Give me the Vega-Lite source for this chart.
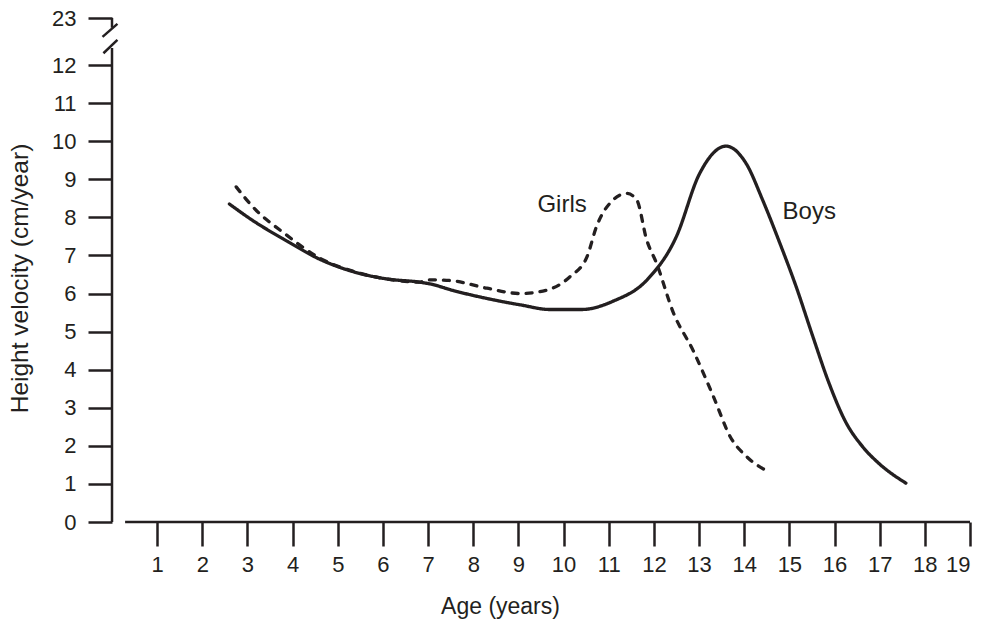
{
  "$schema": "https://vega.github.io/schema/vega-lite/v6.json",
  "width": 858,
  "height": 504,
  "autosize": {"type": "none"},
  "padding": {"left": 112, "top": 18, "right": 21, "bottom": 98},
  "background": "white",
  "config": {
    "view": {"stroke": null},
    "font": "Liberation Sans",
    "axis": {"grid": false, "labelColor": "#231f20", "titleColor": "#231f20", "labelFont": "Liberation Sans", "titleFont": "Liberation Sans", "titleFontWeight": "normal"}
  },
  "datasets": {
    "curves": [
      {"sex": "Boys", "age": 2.6, "velocity": 8.35},
      {"sex": "Boys", "age": 3.1, "velocity": 7.93},
      {"sex": "Boys", "age": 3.9, "velocity": 7.36},
      {"sex": "Boys", "age": 4.6, "velocity": 6.9},
      {"sex": "Boys", "age": 5.35, "velocity": 6.57},
      {"sex": "Boys", "age": 6.1, "velocity": 6.38},
      {"sex": "Boys", "age": 6.8, "velocity": 6.3},
      {"sex": "Boys", "age": 7.05, "velocity": 6.25},
      {"sex": "Boys", "age": 7.55, "velocity": 6.08},
      {"sex": "Boys", "age": 8.3, "velocity": 5.87},
      {"sex": "Boys", "age": 9.05, "velocity": 5.7},
      {"sex": "Boys", "age": 9.7, "velocity": 5.58},
      {"sex": "Boys", "age": 10.4, "velocity": 5.58},
      {"sex": "Boys", "age": 11.1, "velocity": 5.8},
      {"sex": "Boys", "age": 11.85, "velocity": 6.36},
      {"sex": "Boys", "age": 12.5, "velocity": 7.5},
      {"sex": "Boys", "age": 13.0, "velocity": 9.12},
      {"sex": "Boys", "age": 13.6, "velocity": 9.87},
      {"sex": "Boys", "age": 14.04, "velocity": 9.42},
      {"sex": "Boys", "age": 14.41, "velocity": 8.45},
      {"sex": "Boys", "age": 14.78, "velocity": 7.35},
      {"sex": "Boys", "age": 15.15, "velocity": 6.18},
      {"sex": "Boys", "age": 15.52, "velocity": 4.87},
      {"sex": "Boys", "age": 15.88, "velocity": 3.64},
      {"sex": "Boys", "age": 16.25, "velocity": 2.62},
      {"sex": "Boys", "age": 16.62, "velocity": 1.98},
      {"sex": "Boys", "age": 17.0, "velocity": 1.52},
      {"sex": "Boys", "age": 17.58, "velocity": 1.02},
      {"sex": "Girls", "age": 2.75, "velocity": 8.8},
      {"sex": "Girls", "age": 3.1, "velocity": 8.3},
      {"sex": "Girls", "age": 3.85, "velocity": 7.55},
      {"sex": "Girls", "age": 4.6, "velocity": 6.93},
      {"sex": "Girls", "age": 5.35, "velocity": 6.58},
      {"sex": "Girls", "age": 6.1, "velocity": 6.38},
      {"sex": "Girls", "age": 6.8, "velocity": 6.3},
      {"sex": "Girls", "age": 7.05, "velocity": 6.36},
      {"sex": "Girls", "age": 7.5, "velocity": 6.34},
      {"sex": "Girls", "age": 8.3, "velocity": 6.14},
      {"sex": "Girls", "age": 9.04, "velocity": 6.0},
      {"sex": "Girls", "age": 9.63, "velocity": 6.09},
      {"sex": "Girls", "age": 10.15, "velocity": 6.45},
      {"sex": "Girls", "age": 10.52, "velocity": 6.97},
      {"sex": "Girls", "age": 10.73, "velocity": 7.76},
      {"sex": "Girls", "age": 11.1, "velocity": 8.46},
      {"sex": "Girls", "age": 11.4, "velocity": 8.63},
      {"sex": "Girls", "age": 11.62, "velocity": 8.46},
      {"sex": "Girls", "age": 11.84, "velocity": 7.41},
      {"sex": "Girls", "age": 12.06, "velocity": 6.79},
      {"sex": "Girls", "age": 12.43, "velocity": 5.5},
      {"sex": "Girls", "age": 12.87, "velocity": 4.5},
      {"sex": "Girls", "age": 13.32, "velocity": 3.29},
      {"sex": "Girls", "age": 13.69, "velocity": 2.24},
      {"sex": "Girls", "age": 14.06, "velocity": 1.71},
      {"sex": "Girls", "age": 14.54, "velocity": 1.32}
    ],
    "frame": [
      {"age": 0.29, "velocity": 0, "age2": 19, "velocity2": 0},
      {"age": 0, "velocity": 0, "age2": 0, "velocity2": 12.45},
      {"age": -0.19, "velocity": 12.31, "age2": 0.12, "velocity2": 12.66},
      {"age": -0.21, "velocity": 12.74, "age2": 0.12, "velocity2": 13.08},
      {"age": 0, "velocity": 12.98, "age2": 0, "velocity2": 13.235}
    ],
    "labels": [
      {"text": "Girls", "age": 9.42, "velocity": 8.14},
      {"text": "Boys", "age": 14.85, "velocity": 7.95}
    ]
  },
  "encoding": {
    "x": {
      "field": "age", "type": "quantitative",
      "scale": {"domain": [0, 19], "nice": false, "zero": false},
      "axis": {
        "values": [1,2,3,4,5,6,7,8,9,10,11,12,13,14,15,16,17,18,19],
        "domain": false, "tickSize": 24, "tickWidth": 2.5, "tickColor": "#231f20",
        "labelFontSize": 22, "labelPadding": 8,
        "title": "Age (years)", "titleFontSize": 23,
        "titleX": 388, "titleY": 91, "titleAlign": "center", "titleBaseline": "alphabetic"
      }
    },
    "y": {
      "field": "velocity", "type": "quantitative",
      "scale": {"domain": [0, 13.235], "nice": false, "zero": false},
      "axis": {
        "values": [0,1,2,3,4,5,6,7,8,9,10,11,12,13.235],
        "labelExpr": "datum.value > 12.5 ? '23' : format(datum.value, 'd')",
        "domain": false, "tickSize": 24, "tickWidth": 2.5, "tickColor": "#231f20",
        "labelFontSize": 22, "labelPadding": 12,
        "title": "Height velocity (cm/year)", "titleFontSize": 24.5,
        "titleX": -85, "titleY": 260, "titleAlign": "center", "titleBaseline": "alphabetic"
      }
    }
  },
  "layer": [
    {
      "data": {"name": "curves"},
      "mark": {"type": "line", "interpolate": "monotone", "strokeWidth": 3.3, "strokeCap": "round", "color": "#231f20"},
      "encoding": {
        "strokeDash": {
          "field": "sex", "type": "nominal",
          "scale": {"domain": ["Boys", "Girls"], "range": [[1, 0], [6, 8]]},
          "legend": null
        }
      }
    },
    {
      "data": {"name": "frame"},
      "mark": {"type": "rule", "strokeWidth": 2.5, "color": "#231f20"},
      "encoding": {
        "x2": {"field": "age2"},
        "y2": {"field": "velocity2"}
      }
    },
    {
      "data": {"name": "labels"},
      "mark": {"type": "text", "align": "left", "baseline": "alphabetic", "fontSize": 24, "font": "Liberation Sans", "color": "#231f20"},
      "encoding": {
        "text": {"field": "text"}
      }
    }
  ]
}
